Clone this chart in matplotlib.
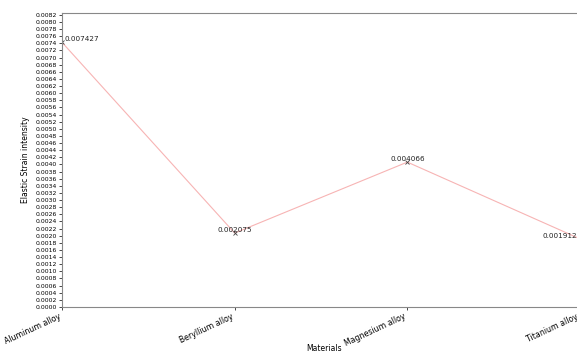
import matplotlib
matplotlib.use("Agg")
import matplotlib.pyplot as plt
import numpy as np

# Data
materials = ["Aluminum alloy", "Beryllium alloy", "Magnesium alloy", "Titanium alloy"]
strain = [0.007427, 0.002075, 0.004066, 0.001912]
y_ticks = np.round(np.arange(0, 0.00821, 0.0002), 4)

fig = plt.figure(figsize=(5.77, 3.54), dpi=100)
# axes runs a little past the right edge, as in the (cropped) reference
ax = fig.add_axes([62 / 577, (354 - 307) / 354, (580 - 62) / 577, (307 - 13) / 354])

x = np.arange(len(materials))
ax.plot(x, strain, color="#f7b4b4", linewidth=0.8, marker="x",
        markersize=2.5, markeredgecolor="#444444", markeredgewidth=0.6)

# value labels: first one sits right of the axis, last one left of the edge
for i, v in enumerate(strain):
    if i == 0:
        ha, dx = "left", 0.015
    elif i == len(strain) - 1:
        ha, dx = "right", -0.015
    else:
        ha, dx = "center", 0.0
    ax.text(x[i] + dx, v, f"{v:.6f}", fontsize=5.2, ha=ha, va="bottom", color="#222222")

ax.set_xlim(0, len(materials) - 1)
ax.set_ylim(0, 0.00825)
ax.set_yticks(y_ticks)
ax.set_yticklabels([f"{t:.4f}" for t in y_ticks], fontsize=4.4)
ax.set_xticks(x)
ax.set_xticklabels(materials, rotation=25, ha="right", fontsize=5.6)
ax.tick_params(axis="both", length=2, width=0.5, pad=1.5)

ax.set_xlabel("Materials", fontsize=5.5)
ax.xaxis.set_label_coords(0.505, -0.125)
ax.set_ylabel("Elastic Strain intensity", fontsize=5.5, labelpad=4)

for s in ax.spines.values():
    s.set_linewidth(0.8)
    s.set_color("#888888")

fig.savefig("out.png", dpi=100)
